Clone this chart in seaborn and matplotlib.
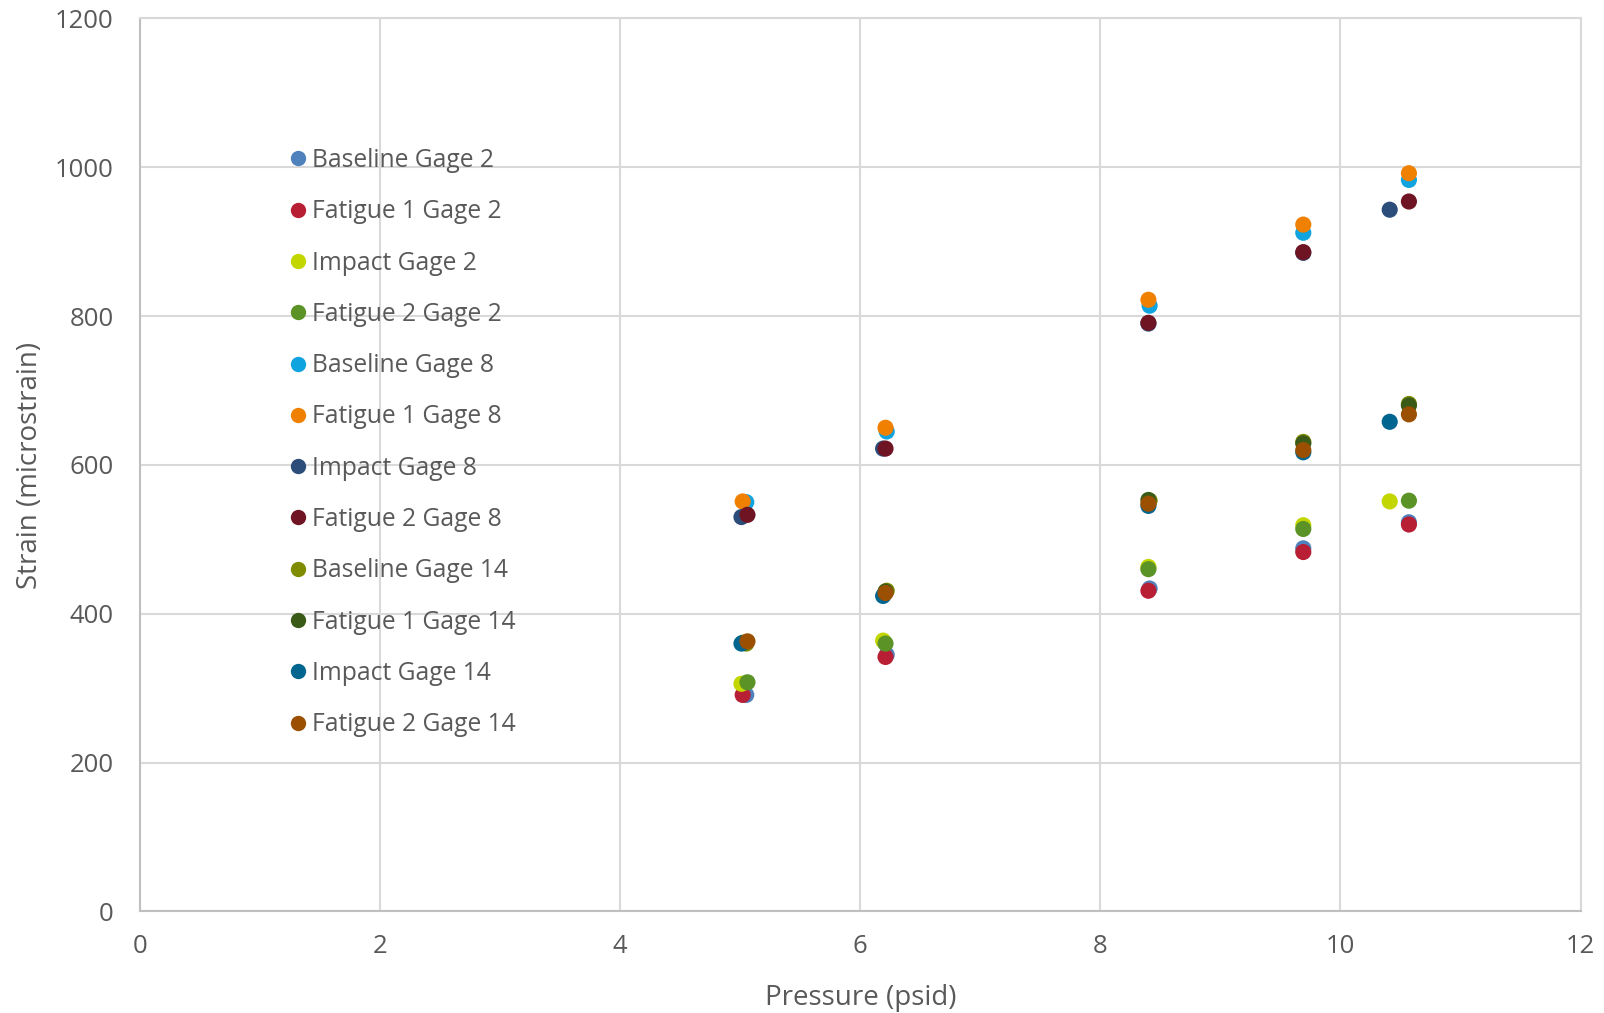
import pandas as pd
import matplotlib.pyplot as plt
import seaborn as sns

# Pressions (psid) par essai
p_baseline = [5.05, 6.22, 8.41, 9.69, 10.57]
p_fatigue1 = [5.02, 6.21, 8.40, 9.69, 10.57]
p_impact = [5.01, 6.19, 8.40, 9.69, 10.41]
p_fatigue2 = [5.06, 6.21, 8.40, 9.69, 10.57]

# Déformations (microstrain)
baseline_g2 = [291, 345, 434, 488, 523]
fatigue1_g2 = [291, 342, 431, 483, 520]
impact_g2 = [306, 364, 463, 519, 551]
fatigue2_g2 = [308, 360, 460, 514, 552]
baseline_g8 = [550, 645, 814, 912, 983]
fatigue1_g8 = [551, 650, 822, 923, 992]
impact_g8 = [530, 622, 790, 885, 943]
fatigue2_g8 = [533, 622, 791, 886, 954]
baseline_g14 = [360, 431, 552, 631, 682]
fatigue1_g14 = [361, 430, 553, 629, 680]
impact_g14 = [360, 424, 545, 617, 658]
fatigue2_g14 = [363, 428, 548, 620, 668]

series = [
    ('Baseline Gage 2', p_baseline, baseline_g2, '#4F81BD'),
    ('Fatigue 1 Gage 2', p_fatigue1, fatigue1_g2, '#B81F35'),
    ('Impact Gage 2', p_impact, impact_g2, '#C3D600'),
    ('Fatigue 2 Gage 2', p_fatigue2, fatigue2_g2, '#5B9327'),
    ('Baseline Gage 8', p_baseline, baseline_g8, '#0FA3E0'),
    ('Fatigue 1 Gage 8', p_fatigue1, fatigue1_g8, '#F08000'),
    ('Impact Gage 8', p_impact, impact_g8, '#2C4D7A'),
    ('Fatigue 2 Gage 8', p_fatigue2, fatigue2_g8, '#6E1423'),
    ('Baseline Gage 14', p_baseline, baseline_g14, '#7F8C00'),
    ('Fatigue 1 Gage 14', p_fatigue1, fatigue1_g14, '#3A5A18'),
    ('Impact Gage 14', p_impact, impact_g14, '#00668F'),
    ('Fatigue 2 Gage 14', p_fatigue2, fatigue2_g14, '#9A5000'),
]

rows = []
for name, px, vals, _ in series:
    for x, y in zip(px, vals):
        rows.append({'Pressure': x, 'Strain': y, 'Series': name})
df = pd.DataFrame(rows)
palette = {name: c for name, _, _, c in series}

sns.set_theme(style='white')
plt.rcParams['font.family'] = ['Open Sans', 'DejaVu Sans']

fig = plt.figure(figsize=(16.04, 10.13), dpi=100)
ax = fig.add_axes([0.0873, 0.1002, 0.8981, 0.8816])

sns.scatterplot(data=df, x='Pressure', y='Strain', hue='Series', palette=palette,
                s=135, edgecolor='none', linewidth=0, ax=ax, zorder=3)

ax.set_xlim(0, 12)
ax.set_ylim(0, 1200)
ax.set_xticks(range(0, 13, 2))
ax.set_yticks(range(0, 1201, 200))
ax.grid(True, color='#D9D9D9', linewidth=1.5)
ax.set_axisbelow(True)
for side in ['top', 'right']:
    ax.spines[side].set_color('#D9D9D9')
    ax.spines[side].set_linewidth(1.5)
for side in ['left', 'bottom']:
    ax.spines[side].set_color('#BFBFBF')
    ax.spines[side].set_linewidth(1.5)
ax.tick_params(axis='both', labelsize=18.5, colors='#595959', length=0)
ax.tick_params(axis='y', pad=19)
ax.tick_params(axis='x', pad=16)

ax.set_xlabel('Pressure (psid)', fontsize=20, color='#595959', labelpad=18)
ax.set_ylabel('Strain (microstrain)', fontsize=20, color='#595959', labelpad=8)

leg = ax.legend(loc='upper left', bbox_to_anchor=(0.094, 0.866), frameon=False,
                fontsize=17.7, labelspacing=1.07, handletextpad=0.1,
                handlelength=1.0, borderaxespad=0, markerscale=0.95)
for t in leg.get_texts():
    t.set_color('#595959')

plt.savefig('out.png', dpi=100)
